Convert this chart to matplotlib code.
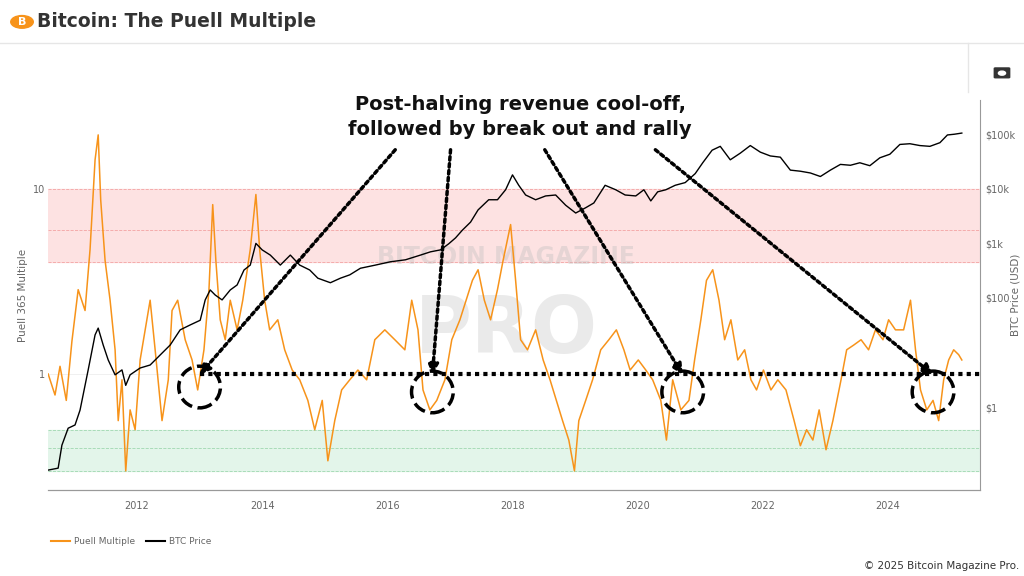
import matplotlib.pyplot as plt
import matplotlib.ticker as mticker
from matplotlib.patches import FancyBboxPatch, Circle

# Puell Multiple (decimal year, value)
puell_years = [2010.58, 2010.69, 2010.77, 2010.87, 2010.96, 2011.06, 2011.17, 2011.25, 2011.33, 2011.38,
               2011.42, 2011.49, 2011.57, 2011.65, 2011.70, 2011.76, 2011.82, 2011.89, 2011.97, 2012.05,
               2012.13, 2012.21, 2012.29, 2012.40, 2012.50, 2012.56, 2012.65, 2012.77, 2012.88, 2012.97,
               2013.07, 2013.15, 2013.21, 2013.26, 2013.33, 2013.41, 2013.49, 2013.60, 2013.69, 2013.81,
               2013.90, 2013.96, 2014.04, 2014.12, 2014.25, 2014.36, 2014.48, 2014.60, 2014.73, 2014.84,
               2014.96, 2015.05, 2015.16, 2015.27, 2015.40, 2015.53, 2015.67, 2015.80, 2015.96, 2016.12,
               2016.28, 2016.39, 2016.49, 2016.57, 2016.68, 2016.79, 2016.92, 2017.03, 2017.16, 2017.26,
               2017.36, 2017.45, 2017.55, 2017.65, 2017.76, 2017.85, 2017.97, 2018.05, 2018.13, 2018.24,
               2018.37, 2018.49, 2018.60, 2018.70, 2018.80, 2018.90, 2018.99, 2019.06, 2019.17, 2019.28,
               2019.41, 2019.54, 2019.66, 2019.78, 2019.88, 2020.01, 2020.13, 2020.24, 2020.37, 2020.46,
               2020.56, 2020.69, 2020.82, 2020.91, 2021.01, 2021.10, 2021.20, 2021.30, 2021.39, 2021.49,
               2021.60, 2021.71, 2021.81, 2021.90, 2022.01, 2022.13, 2022.24, 2022.37, 2022.50, 2022.60,
               2022.70, 2022.80, 2022.90, 2023.01, 2023.12, 2023.25, 2023.34, 2023.45, 2023.57, 2023.69,
               2023.80, 2023.92, 2024.01, 2024.12, 2024.25, 2024.36, 2024.44, 2024.52, 2024.62, 2024.72,
               2024.81, 2024.89, 2024.97, 2025.05, 2025.13, 2025.18]
puell_values = [1.0, 0.77, 1.1, 0.72, 1.5, 2.85, 2.2, 4.7, 14.3, 19.5,
                8.7, 4.1, 2.5, 1.35, 0.56, 0.93, 0.30, 0.64, 0.5, 1.19,
                1.73, 2.5, 1.35, 0.56, 0.93, 2.2, 2.5, 1.53, 1.19, 0.82,
                1.35, 2.85, 8.2, 4.1, 1.96, 1.53, 2.5, 1.73, 2.5, 4.7,
                9.3, 4.7, 2.5, 1.73, 1.96, 1.35, 1.05, 0.93, 0.72, 0.5,
                0.72, 0.34, 0.56, 0.82, 0.93, 1.05, 0.93, 1.53, 1.73, 1.53,
                1.35, 2.5, 1.73, 0.82, 0.64, 0.72, 0.93, 1.53, 1.96, 2.5,
                3.2, 3.65, 2.5, 1.96, 2.85, 4.1, 6.4, 3.2, 1.53, 1.35,
                1.73, 1.19, 0.93, 0.72, 0.56, 0.44, 0.30, 0.56, 0.72, 0.93,
                1.35, 1.53, 1.73, 1.35, 1.05, 1.19, 1.05, 0.93, 0.72, 0.44,
                0.93, 0.64, 0.72, 1.19, 1.96, 3.2, 3.65, 2.5, 1.53, 1.96,
                1.19, 1.35, 0.93, 0.82, 1.05, 0.82, 0.93, 0.82, 0.56, 0.41,
                0.5, 0.44, 0.64, 0.39, 0.56, 0.93, 1.35, 1.43, 1.53, 1.35,
                1.73, 1.53, 1.96, 1.73, 1.73, 2.5, 1.35, 0.82, 0.64, 0.72,
                0.56, 0.93, 1.19, 1.35, 1.27, 1.19]

# BTC price (decimal year, USD)
btc_years = [2010.58, 2010.74, 2010.80, 2010.90, 2011.01, 2011.09, 2011.22, 2011.33, 2011.38, 2011.46,
             2011.54, 2011.65, 2011.76, 2011.82, 2011.89, 2012.05, 2012.21, 2012.37, 2012.53, 2012.69,
             2012.85, 2013.01, 2013.09, 2013.17, 2013.25, 2013.36, 2013.49, 2013.60, 2013.71, 2013.81,
             2013.90, 2014.00, 2014.13, 2014.29, 2014.45, 2014.60, 2014.76, 2014.89, 2015.09, 2015.25,
             2015.40, 2015.57, 2015.81, 2016.05, 2016.29, 2016.53, 2016.69, 2016.85, 2016.98, 2017.09,
             2017.20, 2017.33, 2017.45, 2017.62, 2017.76, 2017.89, 2018.00, 2018.10, 2018.21, 2018.37,
             2018.53, 2018.69, 2018.85, 2019.01, 2019.17, 2019.30, 2019.48, 2019.65, 2019.80, 2019.97,
             2020.10, 2020.21, 2020.32, 2020.45, 2020.60, 2020.76, 2020.92, 2021.04, 2021.19, 2021.32,
             2021.48, 2021.64, 2021.80, 2021.96, 2022.12, 2022.28, 2022.44, 2022.60, 2022.76, 2022.92,
             2023.08, 2023.24, 2023.40, 2023.55, 2023.71, 2023.87, 2024.03, 2024.19, 2024.35, 2024.51,
             2024.67, 2024.83, 2024.95, 2025.06, 2025.18]
btc_values = [0.07, 0.076, 0.2, 0.41, 0.47, 0.88, 4.8, 21, 28, 13.7,
              7.3, 3.9, 4.8, 2.5, 3.9, 5.2, 5.9, 9, 13.7, 26,
              32, 39, 92, 140, 113, 92, 140, 173, 325, 400,
              1000, 760, 610, 400, 610, 400, 325, 230, 190, 230,
              265, 350, 400, 460, 500, 610, 700, 760, 980, 1260,
              1750, 2450, 4100, 6300, 6300, 9600, 18000, 11600, 7700, 6300,
              7400, 7700, 5000, 3600, 4500, 5500, 11600, 9600, 7700, 7400,
              9600, 6000, 8800, 9600, 11600, 13000, 19000, 30000, 51000, 60000,
              34000, 45000, 62000, 47000, 40000, 38000, 22000, 21000, 19500, 16800,
              22000, 28000, 27000, 30000, 26500, 37000, 43000, 65000, 67000, 62000,
              60000, 70000, 97000, 100000, 105000]

# post-halving cool-off circles
circle_years = [2013.0, 2016.72, 2020.72, 2024.72]
circle_values = [0.85, 0.8, 0.8, 0.8]
arrow_tails = [(0.386, 0.74), (0.44, 0.74), (0.532, 0.74), (0.64, 0.74)]

orange = '#f7931a'

fig = plt.figure(figsize=(10.24, 5.76), dpi=100)
fig.patch.set_facecolor('white')

# header
fig.add_artist(Circle((0.0215, 0.962), 0.011, transform=fig.transFigure, color=orange))
fig.text(0.0215, 0.961, 'B', color='white', fontsize=8, fontweight='bold',
         ha='center', va='center')
fig.text(0.036, 0.962, 'Bitcoin: The Puell Multiple', fontsize=13.5, fontweight='bold',
         color='#333333', va='center')
fig.add_artist(plt.Line2D([0, 1], [0.925, 0.925], color='#e6e6e6', lw=1))
fig.add_artist(plt.Line2D([0.945, 0.945], [0.925, 0.84], color='#e6e6e6', lw=1))
# camera icon
fig.add_artist(FancyBboxPatch((0.972, 0.866), 0.013, 0.015, boxstyle='round,pad=0.001',
                              transform=fig.transFigure, color='#333333'))
fig.add_artist(Circle((0.9785, 0.873), 0.0035, transform=fig.transFigure, color='white'))

ax = fig.add_axes([0.047, 0.149, 0.91, 0.677])
ax.set_yscale('log')
ax.set_ylim(0.236, 30)
ax.set_xlim(2010.58, 2025.47)

# bands
ax.axhspan(4, 10, color='#fde2e2', zorder=0)
ax.axhspan(0.3, 0.5, color='#e3f5ea', zorder=0)
for lvl in [4, 6, 10]:
    ax.axhline(lvl, color='#f3a3a3', ls='--', lw=0.6, zorder=0.5)
for lvl in [0.3, 0.4, 0.5]:
    ax.axhline(lvl, color='#9fd8b0', ls='--', lw=0.6, zorder=0.5)
ax.axhline(1, color='#eeeeee', lw=0.6, zorder=0.4)

ax.text(2017.9, 4.3, 'BITCOIN MAGAZINE', fontsize=17, fontweight='bold', color='#bbbbbb',
        alpha=0.35, ha='center', va='center', zorder=1)
ax.text(2017.9, 1.7, 'PRO', fontsize=56, fontweight='bold', color='#bbbbbb',
        alpha=0.3, ha='center', va='center', zorder=1)

ax.plot(puell_years, puell_values, color=orange, lw=1.1, zorder=3)

ax2 = ax.twinx()
ax2.set_yscale('log')
ax2.set_ylim(0.03, 4.2e5)
ax2.plot(btc_years, btc_values, color='black', lw=1.0, zorder=3)

# annotation: horizontal line, circles, arrows
ax.hlines(1.0, 2013.0, 2025.47, color='black', ls=(0, (1, 1)), lw=3, zorder=5)
ax.scatter(circle_years, circle_values, s=900, facecolors='none', edgecolors='black',
           linewidths=2.5, linestyles='--', zorder=6)
for (tx, ty), cx in zip(arrow_tails, circle_years):
    ax.annotate('', xy=(cx, 0.99), xycoords='data', xytext=(tx, ty), textcoords='figure fraction',
                arrowprops=dict(arrowstyle='-|>,head_width=0.3,head_length=0.6', color='black',
                                lw=2.5, ls=(0, (1, 1)), shrinkA=0, shrinkB=0), zorder=6)
fig.text(0.508, 0.758, 'Post-halving revenue cool-off,\nfollowed by break out and rally',
         fontsize=14, fontweight='bold', ha='center', va='bottom', linespacing=1.45,
         color='#111111')

# axes styling
for a in (ax, ax2):
    for s in ['top', 'left']:
        a.spines[s].set_visible(False)
    a.spines['bottom'].set_color('#999999')
    a.spines['right'].set_color('#999999')
ax.spines['right'].set_visible(False)
ax.set_yticks([1, 10])
ax.yaxis.set_major_formatter(mticker.FuncFormatter(lambda v, p: f'{v:g}'))
ax.yaxis.set_minor_locator(mticker.NullLocator())
ax.tick_params(axis='y', length=0, labelsize=7, colors='#666666', pad=2)
ax.set_xticks([2012, 2014, 2016, 2018, 2020, 2022, 2024])
ax.tick_params(axis='x', length=0, labelsize=7, colors='#666666', pad=8)
ax.set_ylabel('Puell 365 Multiple', fontsize=7.5, color='#666666')
ax2.set_yticks([1, 100, 1000, 10000, 100000])
ax2.set_yticklabels(['$1', '$100', '$1k', '$10k', '$100k'])
ax2.yaxis.set_minor_locator(mticker.NullLocator())
ax2.tick_params(axis='y', length=0, labelsize=7, colors='#666666', pad=4)
ax2.set_ylabel('BTC Price (USD)', fontsize=7.5, color='#666666')
ax2.yaxis.set_label_coords(1.033, 0.5)

# legend
fig.add_artist(plt.Line2D([0.05, 0.068], [0.06, 0.06], color=orange, lw=1.5))
fig.text(0.072, 0.06, 'Puell Multiple', fontsize=6.5, color='#666666', va='center')
fig.add_artist(plt.Line2D([0.143, 0.161], [0.06, 0.06], color='black', lw=1.5))
fig.text(0.165, 0.06, 'BTC Price', fontsize=6.5, color='#666666', va='center')
fig.text(0.995, 0.017, '© 2025 Bitcoin Magazine Pro.', fontsize=7.5, color='#333333',
         ha='right', va='center')

fig.savefig('out.png', dpi=100)
